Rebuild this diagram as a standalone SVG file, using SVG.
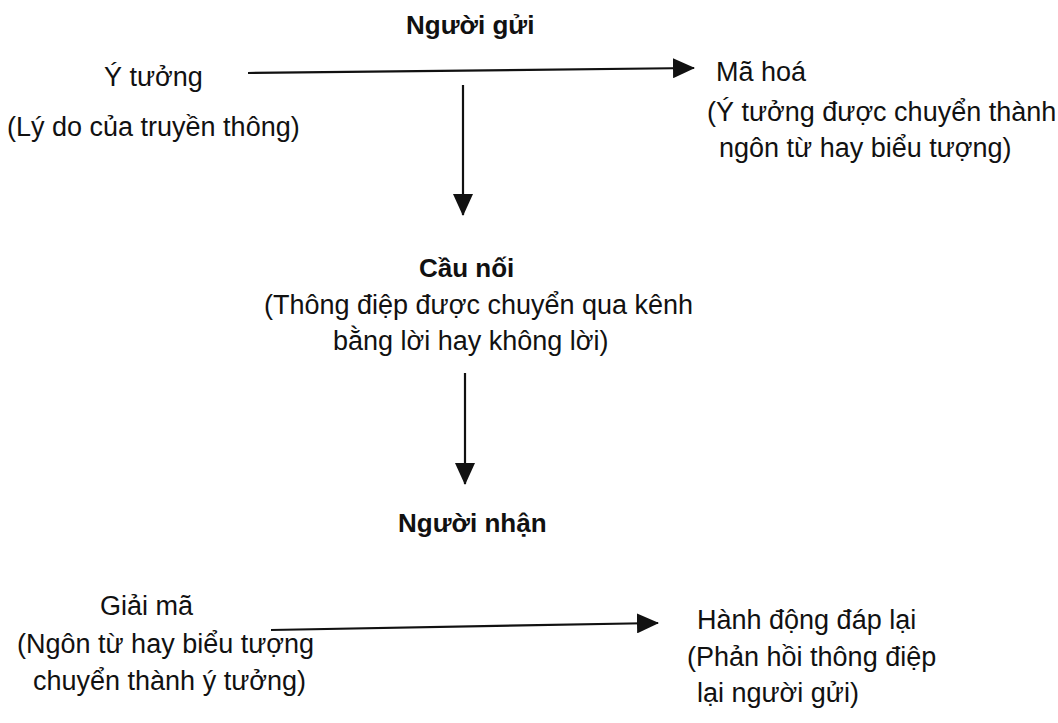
<svg xmlns="http://www.w3.org/2000/svg" width="1058" height="723" viewBox="0 0 1058 723">
<style>
text{font-family:"Liberation Sans",Arial,sans-serif;font-size:27px;fill:#111}
.b{font-weight:bold;font-size:26px}
.ln{stroke:#111;stroke-width:2.2;fill:none}
</style>
<defs>
<marker id="ah" markerWidth="22" markerHeight="20" refX="21" refY="10" orient="auto" markerUnits="userSpaceOnUse">
<path d="M0,0 L22,10 L0,20 Z" fill="#111"/>
</marker>
</defs>
<rect width="1058" height="723" fill="#fff"/>
<g id="connectors">
<path class="ln" d="M248,73 L694,68" marker-end="url(#ah)"/>
<path class="ln" d="M463,85 L463,215" marker-end="url(#ah)"/>
<path class="ln" d="M465,373 L465,484" marker-end="url(#ah)"/>
<path class="ln" d="M271,630 L658,623" marker-end="url(#ah)"/>
</g>
<g id="sender"><text class="b" x="406" y="34">Người gửi</text></g>
<g id="idea"><text x="104" y="86">Ý tưởng</text><text x="7" y="136">(Lý do của truyền thông)</text></g>
<g id="encode"><text x="716" y="81">Mã hoá</text><text x="707" y="121">(Ý tưởng được chuyển thành</text><text x="719" y="157">ngôn từ hay biểu tượng)</text></g>
<g id="bridge"><text class="b" x="419" y="277">Cầu nối</text><text x="264" y="314">(Thông điệp được chuyển qua kênh</text><text x="333" y="350">bằng lời hay không lời)</text></g>
<g id="receiver"><text class="b" x="398" y="532">Người nhận</text></g>
<g id="decode"><text x="100" y="615">Giải mã</text><text x="17" y="653">(Ngôn từ hay biểu tượng</text><text x="33" y="690">chuyển thành ý tưởng)</text></g>
<g id="respond"><text x="697" y="629">Hành động đáp lại</text><text x="687" y="666">(Phản hồi thông điệp</text><text x="697" y="702">lại người gửi)</text></g>
</svg>
